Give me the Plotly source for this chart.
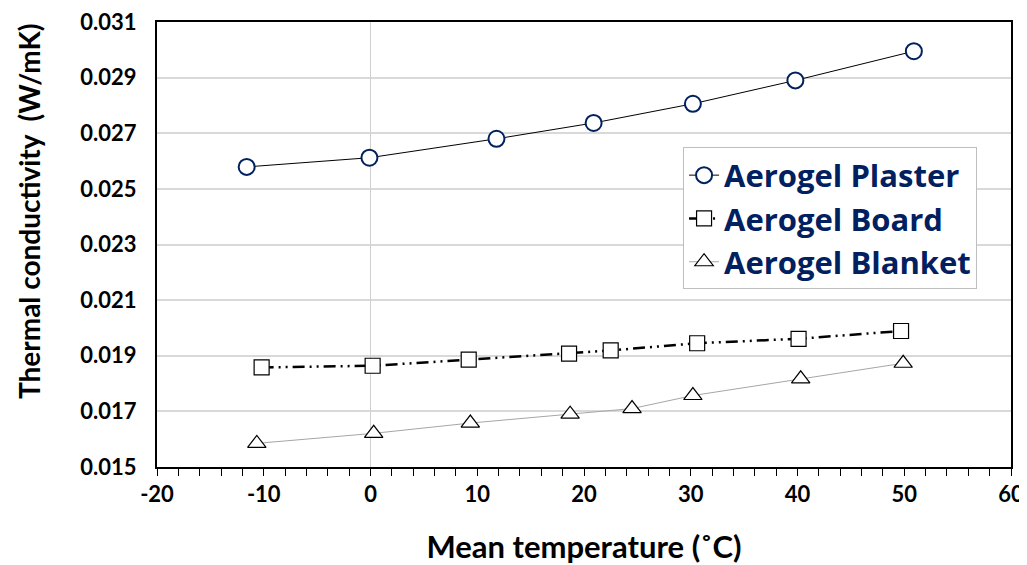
import plotly.graph_objects as go

# Data
plaster_t = [-11.6, -0.1, 11.8, 20.9, 30.2, 39.8, 50.9]
plaster_k = [0.02579, 0.02612, 0.02680, 0.02737, 0.02806, 0.02890, 0.02995]

board_t = [-10.2, 0.2, 9.2, 18.6, 22.5, 30.6, 40.1, 49.7]
board_k = [0.01858, 0.01864, 0.01886, 0.01908, 0.01919, 0.01945, 0.01961, 0.01989]

blanket_t = [-10.65, 0.3, 9.35, 18.7, 24.5, 30.2, 40.3, 49.9]
blanket_k = [0.01585, 0.01621, 0.01658, 0.01690, 0.01710, 0.01757, 0.01817, 0.01873]

x_ticks = [-20, -10, 0, 10, 20, 30, 40, 50, 60]
x_labels = ["-20", "-10", "0", "10", "20", "30", "40", "50", "60"]
y_ticks = [0.015, 0.017, 0.019, 0.021, 0.023, 0.025, 0.027, 0.029, 0.031]

FONT = "Lato"
NAVY = "#002060"

fig = go.Figure()
fig.add_trace(go.Scatter(
    x=plaster_t, y=plaster_k, name="Aerogel Plaster", mode="lines+markers",
    line=dict(color="black", width=1),
    marker=dict(symbol="circle", size=16, color="white", line=dict(color=NAVY, width=2)),
))
fig.add_trace(go.Scatter(
    x=board_t, y=board_k, name="Aerogel Board", mode="lines+markers",
    line=dict(color="black", width=2.5, dash="12px,5px,2px,5px,2px,5px"),
    marker=dict(symbol="square", size=15, color="white", line=dict(color="black", width=1.2)),
))
fig.add_trace(go.Scatter(
    x=blanket_t, y=blanket_k, name="Aerogel Blanket", mode="lines+markers",
    line=dict(color="#a6a6a6", width=1),
    marker=dict(symbol="triangle-up", size=16, color="white", line=dict(color="black", width=1.2)),
))

# Page body has an 8px margin, so the figure starts 8px in from the window corner
fig.update_layout(
    width=1019, height=557,
    margin=dict(l=149, r=16, t=14, b=98),
    plot_bgcolor="white", paper_bgcolor="white",
    font=dict(family=FONT, color="black"),
    legend=dict(
        x=0.616, y=0.718, xanchor="left", yanchor="top",
        bgcolor="white", bordercolor="#bfbfbf", borderwidth=1,
        font=dict(family="Open Sans", size=31, color=NAVY, weight="bold"),
        itemwidth=30, tracegroupgap=0,
    ),
    xaxis=dict(
        range=[-20, 60], tickmode="array", tickvals=x_ticks, ticktext=x_labels,
        ticks="outside", ticklen=7, tickcolor="black", tickwidth=1,
        minor=dict(dtick=2, ticks="outside", ticklen=7, tickcolor="black", tickwidth=1),
        showgrid=False, zeroline=True, zerolinecolor="#d0d0d0", zerolinewidth=1,
        showline=True, linecolor="black", linewidth=2, mirror=True,
        automargin=False, ticklabeloverflow="allow",
        tickfont=dict(family=FONT, size=22, color="black", weight="bold"),
        title=dict(text="Mean temperature (˚C)", standoff=31,
                   font=dict(family=FONT, size=31, color="black", weight="bold")),
    ),
    yaxis=dict(
        range=[0.015, 0.031], tickmode="array", tickvals=y_ticks, tickformat=".3f",
        ticks="", showgrid=True, gridcolor="#d9d9d9", gridwidth=1.5,
        zeroline=False,
        showline=True, linecolor="black", linewidth=2, mirror=True,
        automargin=False, ticklabeloverflow="allow",
        tickfont=dict(family=FONT, size=22, color="black", weight="bold"),
        ticklabelstandoff=14,
    ),
    annotations=[dict(
        text="Thermal conductivity  (W/mK)", textangle=-90,
        xref="paper", yref="paper", x=-0.15, y=0.575,
        xanchor="center", yanchor="middle", showarrow=False,
        font=dict(family=FONT, size=28, color="black", weight="bold"),
    )],
)

fig.write_html("out.html")
